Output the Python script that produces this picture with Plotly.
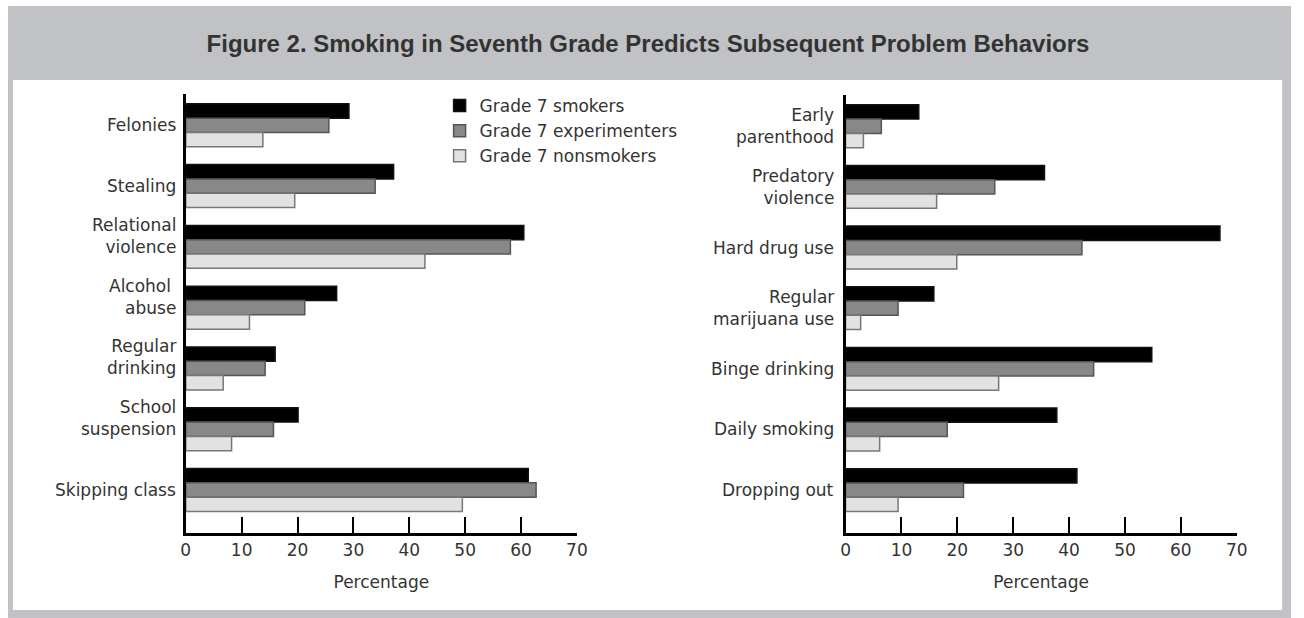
import plotly.graph_objects as go

W, H = 1304, 618

series_names = ["Grade 7 smokers", "Grade 7 experimenters", "Grade 7 nonsmokers"]

left_categories = ["Felonies", "Stealing", "Relational violence", "Alcohol abuse",
                   "Regular drinking", "School suspension", "Skipping class"]
left_labels = ["Felonies", "Stealing", "Relational<br>violence", "Alcohol <br>abuse",
               "Regular<br>drinking", "School<br>suspension", "Skipping class"]
left_smokers = [29.2, 37.2, 60.5, 27.0, 16.0, 20.1, 61.3]
left_experimenters = [25.6, 33.9, 58.1, 21.3, 14.2, 15.7, 62.7]
left_nonsmokers = [13.8, 19.5, 42.8, 11.4, 6.7, 8.2, 49.5]

right_categories = ["Early parenthood", "Predatory violence", "Hard drug use",
                    "Regular marijuana use", "Binge drinking", "Daily smoking", "Dropping out"]
right_labels = ["Early<br>parenthood", "Predatory<br>violence", "Hard drug use",
                "Regular<br>marijuana use", "Binge drinking", "Daily smoking", "Dropping out"]
right_smokers = [13.1, 35.6, 67.0, 15.8, 54.8, 37.8, 41.4]
right_experimenters = [6.4, 26.7, 42.3, 9.4, 44.4, 18.2, 21.1]
right_nonsmokers = [3.2, 16.3, 19.9, 2.7, 27.4, 6.1, 9.4]

x_ticks = [0, 10, 20, 30, 40, 50, 60, 70]
x_title = "Percentage"
title_text = "Figure 2. Smoking in Seventh Grade Predicts Subsequent Problem Behaviors"

fills = ["#000000", "#888888", "#e2e2e2"]
outlines = ["#111111", "#555555", "#777777"]

FONT = "DejaVu Sans, Verdana, sans-serif"
TFONT = "Liberation Sans, Arial, sans-serif"
TXT = "#333333"
FS = 17

fig = go.Figure()

left_vals = [left_smokers, left_experimenters, left_nonsmokers]
right_vals = [right_smokers, right_experimenters, right_nonsmokers]

for i, name in enumerate(series_names):
    fig.add_trace(go.Bar(
        x=left_vals[i], y=left_categories, orientation="h", name=name,
        marker=dict(color=fills[i], line=dict(color=outlines[i], width=1.5)),
        xaxis="x", yaxis="y", showlegend=True, legendgroup=name))
for i, name in enumerate(series_names):
    fig.add_trace(go.Bar(
        x=right_vals[i], y=right_categories, orientation="h", name=name,
        marker=dict(color=fills[i], line=dict(color=outlines[i], width=1.5)),
        xaxis="x2", yaxis="y2", showlegend=False, legendgroup=name))

def px(x):
    return x / W

def py(y):
    return 1 - y / H

yrange = [6.707, -0.515]

xaxis_common = dict(
    range=[0, 70], tickvals=x_ticks, ticks="inside", ticklen=16, tickwidth=1.5,
    tickcolor="#000", showline=True, linewidth=2.5, linecolor="#000",
    showgrid=False, zeroline=False, fixedrange=True,
    tickfont=dict(family=FONT, size=FS, color=TXT),
    title=dict(text=x_title, font=dict(family=FONT, size=FS, color=TXT), standoff=17),
)
yaxis_common = dict(
    type="category", range=yrange, showline=True, linewidth=2.5, linecolor="#000",
    showticklabels=False, ticks="", showgrid=False, zeroline=False, fixedrange=True,
)

fig.update_layout(
    width=W, height=H, autosize=False,
    margin=dict(l=0, r=0, t=0, b=0),
    paper_bgcolor="#ffffff", plot_bgcolor="rgba(0,0,0,0)",
    barmode="group", bargap=0.293, bargroupgap=0,
    xaxis=dict(domain=[px(183), px(579)], anchor="y", **xaxis_common),
    yaxis=dict(domain=[py(533), py(94)], anchor="x", **yaxis_common),
    xaxis2=dict(domain=[px(851), px(1247)], anchor="y2", **xaxis_common),
    yaxis2=dict(domain=[py(533), py(95)], anchor="x2", **yaxis_common),
    title=dict(text="<b>" + title_text + "</b>", x=px(648), xanchor="center",
               y=py(44), yanchor="middle",
               font=dict(family=TFONT, size=24, color=TXT)),
    legend=dict(x=px(440), y=py(88), xanchor="left", yanchor="top",
                font=dict(family=FONT, size=FS, color=TXT),
                bgcolor="rgba(0,0,0,0)", traceorder="normal", tracegroupgap=0),
    showlegend=True,
)

# frame shapes (grey border + header band, white panel)
fig.add_shape(type="rect", xref="paper", yref="paper", x0=px(3), x1=px(1302), y0=0, y1=py(6),
              fillcolor="#c1c2c5", line=dict(width=0), layer="below")
fig.add_shape(type="rect", xref="paper", yref="paper", x0=px(8), x1=px(1293), y0=py(610), y1=py(80),
              fillcolor="#ffffff", line=dict(width=0), layer="below")

# category labels
for cat, lab in zip(left_categories, left_labels):
    fig.add_annotation(x=0, y=cat, xref="x", yref="y", text=lab, showarrow=False,
                       xanchor="right", yanchor="middle", align="right", xshift=-8,
                       yshift=11 if "<br>" in lab else 0,
                       font=dict(family=FONT, size=FS, color=TXT))
for cat, lab in zip(right_categories, right_labels):
    fig.add_annotation(x=0, y=cat, xref="x2", yref="y2", text=lab, showarrow=False,
                       xanchor="right", yanchor="middle", align="right", xshift=-10,
                       font=dict(family=FONT, size=FS, color=TXT))

fig.write_html(
    "out.html",
    config={"displayModeBar": False, "responsive": False},
    post_script=("document.documentElement.style.margin='0';"
                 "document.documentElement.style.overflow='hidden';"
                 "document.body.style.margin='0';document.body.style.padding='0';"
                 "document.body.style.overflow='hidden';"),
)
